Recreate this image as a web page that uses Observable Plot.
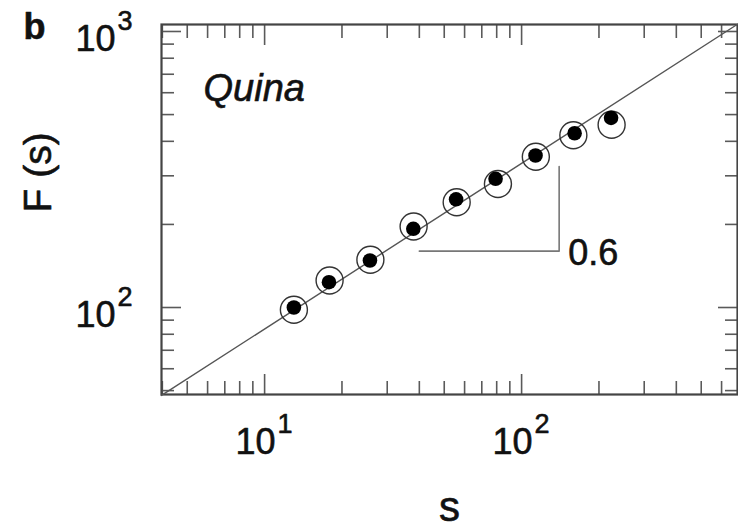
<!DOCTYPE html>
<html><head><meta charset="utf-8">
<script src="https://cdn.jsdelivr.net/npm/d3@7"></script>
<script src="https://cdn.jsdelivr.net/npm/@observablehq/plot@0.6"></script>
<style>body{margin:0;background:#fff}</style>
</head><body><div id="chart"></div>
<script>
// ---- data ----
const panelLetter = "b";
const panelName = "Quina";
const xLabel = "s";
const yLabel = "F (s)";
const slopeLabel = "0.6";

const sFilled = [13.0, 17.8, 25.7, 37.9, 55.6, 79.2, 113.3, 160.8, 222.9];
const fFilled = [100, 123.5, 148, 192.8, 246.6, 292.6, 355.5, 428, 486.6];
const sOpen   = [13.0, 17.9, 25.8, 38.0, 55.9, 80.9, 113.6, 159, 224];
const fOpen   = [98.1, 125.3, 148.9, 196.6, 240.7, 280.3, 351.8, 420.7, 459.6];

const fitSlope = 0.6;
const fitPrefactor = 21;
const fitRangeS = [3.97, 692];

const triangleS = [40, 140, 140];
const triangleF = [160, 160, 324];

const xDomain = [3.97, 692];
const yDomain = [48.4, 1060];

const xMajor = [10, 100];
const xMinor = [4, 5, 6, 7, 8, 9, 20, 30, 40, 50, 60, 70, 80, 90, 200, 300, 400, 500, 600];
const yMajor = [100, 1000];
const yMinor = [50, 60, 70, 80, 90, 200, 300, 400, 500, 600, 700, 800, 900];
const tickBase = ["10", "10"];
const xTickExp = ["1", "2"];
const yTickExp = ["2", "3"];

// ---- tables built from the arrays ----
const filled = sFilled.map((s, i) => ({s, f: fFilled[i]}));
const open = sOpen.map((s, i) => ({s, f: fOpen[i]}));
const fit = fitRangeS.map(s => ({s, f: fitPrefactor * Math.pow(s, fitSlope)}));
const tri = triangleS.map((s, i) => ({s, f: triangleF[i]}));

const tickStroke = "#5a5a5a";
const ink = "#111";
const txt = {fill: ink, stroke: ink, strokeWidth: 0.6};
const axisTicks = (fn, ticks, anchor, size) =>
  fn(ticks, {anchor, tickSize: -size, fill: "none", stroke: tickStroke, strokeWidth: 1.6, label: null});

const chart = Plot.plot({
  width: 738, height: 528,
  marginLeft: 161, marginRight: 1, marginTop: 24, marginBottom: 134,
  x: {type: "log", domain: xDomain},
  y: {type: "log", domain: yDomain},
  style: {fontFamily: "'Liberation Sans', Arial, Helvetica, sans-serif", background: "#fff", color: ink},
  marks: [
    axisTicks(Plot.axisX, xMajor, "bottom", 20),
    axisTicks(Plot.axisX, xMinor, "bottom", 13),
    axisTicks(Plot.axisX, xMajor, "top", 20),
    axisTicks(Plot.axisX, xMinor, "top", 13),
    axisTicks(Plot.axisY, yMajor, "left", 20),
    axisTicks(Plot.axisY, yMinor, "left", 13),
    axisTicks(Plot.axisY, yMajor, "right", 20),
    axisTicks(Plot.axisY, yMinor, "right", 13),
    Plot.frame({stroke: "#444", strokeWidth: 2.2}),
    Plot.line(fit, {x: "s", y: "f", stroke: "#555", strokeWidth: 1.4}),
    Plot.line(tri, {x: "s", y: "f", stroke: "#777", strokeWidth: 1.6}),
    Plot.dot(open, {x: "s", y: "f", r: 13.5, stroke: "#333", strokeWidth: 1.4, fill: "none"}),
    Plot.dot(filled, {x: "s", y: "f", r: 7.3, fill: "#000", stroke: "none"}),
    Plot.text([slopeLabel], {x: () => triangleS[1], y: () => triangleF[0], text: d => d, textAnchor: "start", lineAnchor: "bottom", dx: 9, dy: 14, fontSize: 36, ...txt}),
    // x tick labels
    Plot.text(xMajor, {x: d => d, frameAnchor: "bottom", text: (d, i) => tickBase[i], textAnchor: "end", lineAnchor: "bottom", dx: 11, dy: 59, fontSize: 36, ...txt}),
    Plot.text(xMajor, {x: d => d, frameAnchor: "bottom", text: (d, i) => xTickExp[i], textAnchor: "start", lineAnchor: "bottom", dx: 13, dy: 38, fontSize: 27, ...txt}),
    // y tick labels
    Plot.text(yMajor, {y: d => d, frameAnchor: "left", text: (d, i) => tickBase[i], textAnchor: "end", lineAnchor: "bottom", dx: -46, dy: 19.5, fontSize: 36, ...txt}),
    Plot.text(yMajor, {y: d => d, frameAnchor: "left", text: (d, i) => yTickExp[i], textAnchor: "start", lineAnchor: "bottom", dx: -44, dy: -1.5, fontSize: 27, ...txt}),
    // axis labels and annotations
    Plot.text([xLabel], {frameAnchor: "bottom", text: d => d, lineAnchor: "bottom", dy: 126, fontSize: 42, ...txt}),
    Plot.text([yLabel], {frameAnchor: "left", text: d => d, rotate: -90, lineAnchor: "bottom", dx: -111, dy: 3, fontSize: 39, ...txt}),
    Plot.text([panelName], {frameAnchor: "top-left", text: d => d, textAnchor: "start", lineAnchor: "bottom", dx: 42, dy: 76, fontSize: 38, fontStyle: "italic", ...txt}),
    Plot.text([panelLetter], {frameAnchor: "top-left", text: d => d, textAnchor: "start", lineAnchor: "bottom", dx: -138, dy: 14, fontSize: 36, fontWeight: "bold", ...txt})
  ]
});
document.getElementById("chart").appendChild(chart);
</script>
</body></html>
